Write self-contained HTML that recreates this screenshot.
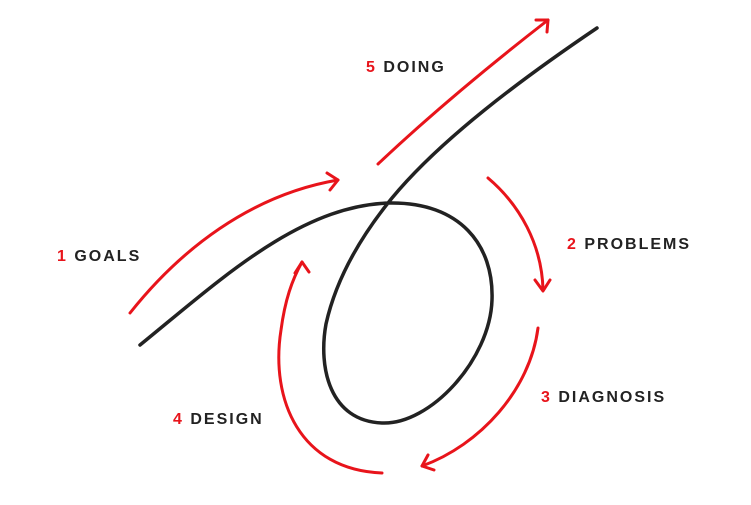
<!DOCTYPE html>
<html><head><style>
html,body{margin:0;padding:0;background:#fff;width:751px;height:505px;overflow:hidden}
text{font-family:"Liberation Sans",sans-serif;font-weight:bold;font-size:16px;letter-spacing:2px}
</style></head><body>
<svg width="751" height="505" viewBox="0 0 751 505" xmlns="http://www.w3.org/2000/svg">
<g fill="none" stroke-linecap="round" stroke-linejoin="round">
<path d="M140,345 C220,280 300,205 390,203 C460,202 494,245 492,300 C490,360 430,425 382,423 C330,421 318,368 326,324 C338,270 370,225 392,198 C440,140 520,80 597,28" stroke="#222" stroke-width="3.5"/>
<g stroke="#e8141b" stroke-width="3">
<path d="M130,313 C180,250 250,195 338,180"/>
<path d="M327,173 L338,180 L330,190"/>
<path d="M378,164 C430,115 490,65 548,20"/>
<path d="M536,20 L548,20 L547,32"/>
<path d="M488,178 C520,205 542,245 543,290"/>
<path d="M535,280 L543,291 L550,280"/>
<path d="M538,328 C530,390 480,445 422,466"/>
<path d="M428,455 L422,466 L434,470"/>
<path d="M382,473 C300,470 270,400 281,330 C285,300 292,280 302,262"/>
<path d="M295,273 L302,262 L309,272"/>
</g>
</g>
<text x="57" y="261"><tspan fill="#e8141b">1</tspan><tspan fill="#222"> GOALS</tspan></text>
<text x="366" y="72"><tspan fill="#e8141b">5</tspan><tspan fill="#222"> DOING</tspan></text>
<text x="567" y="249"><tspan fill="#e8141b">2</tspan><tspan fill="#222"> PROBLEMS</tspan></text>
<text x="541" y="402"><tspan fill="#e8141b">3</tspan><tspan fill="#222"> DIAGNOSIS</tspan></text>
<text x="173" y="424"><tspan fill="#e8141b">4</tspan><tspan fill="#222"> DESIGN</tspan></text>
</svg>
</body></html>
